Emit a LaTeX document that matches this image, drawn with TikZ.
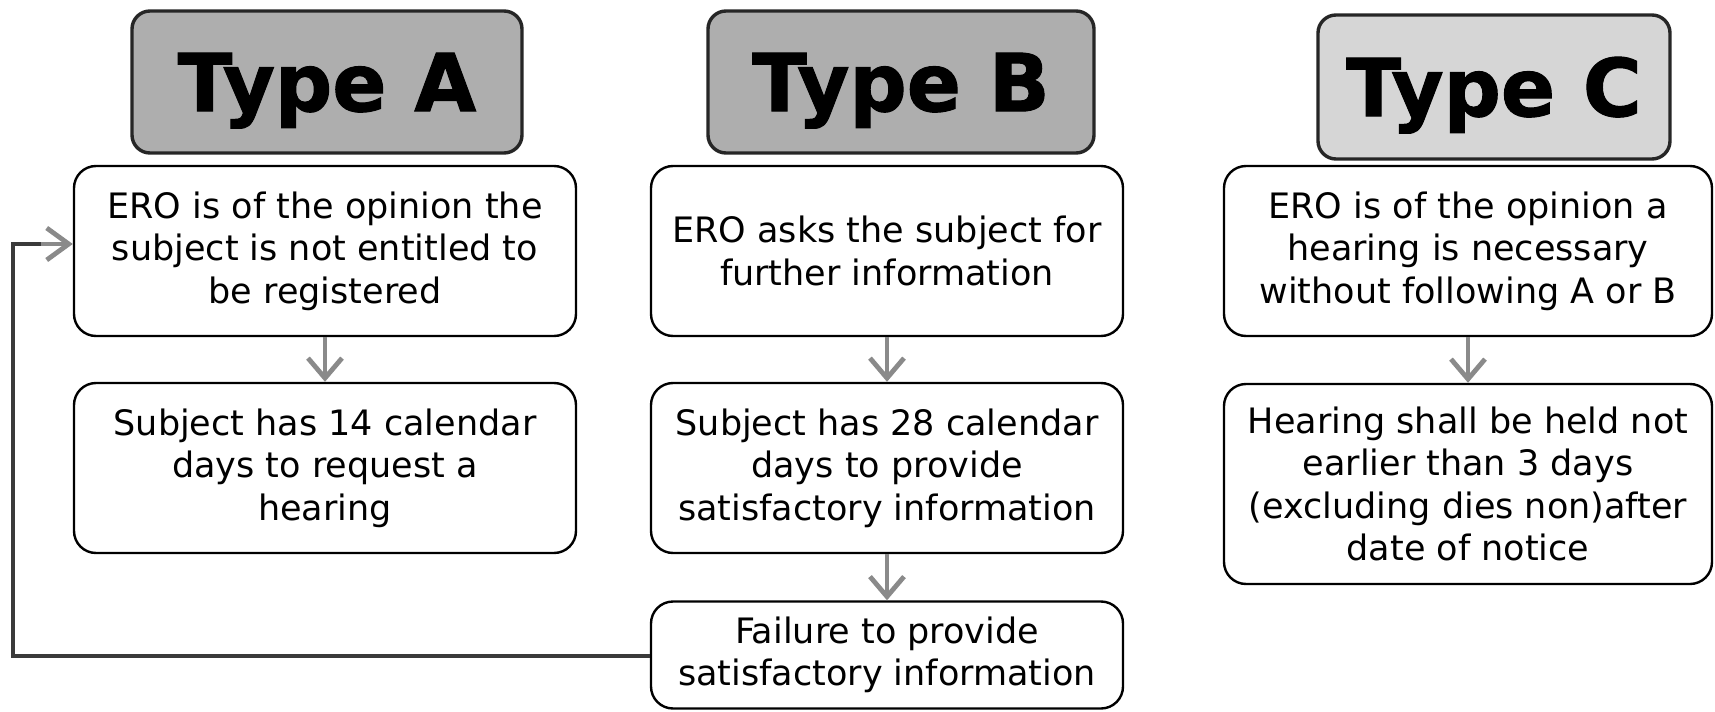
\documentclass[tikz,border=0pt]{standalone}
\usepackage{fontspec}
\setmainfont{DejaVu Sans}
\newfontface\hdrfont{DejaVu Sans Bold}[FakeBold=1.3]
\usetikzlibrary{arrows.meta}
\definecolor{hdark}{HTML}{AEAEAE}
\definecolor{hlight}{HTML}{D6D6D6}
\definecolor{arrgray}{HTML}{8A8A8A}
\definecolor{loopgray}{HTML}{3A3A3A}
\begin{document}
\begin{tikzpicture}[x=0.5pt,y=-0.5pt,
  hdr/.style={draw=black!85,line width=1.7pt,rounded corners=9pt,inner sep=0pt,
    text height=29.2pt,text depth=0pt,font=\fontsize{40}{44}\hdrfont},
  stepbox/.style={draw=black,line width=1.2pt,fill=white,rounded corners=11pt,inner sep=0pt,
    align=center,font=\fontsize{17.5}{21.3}\selectfont,
    execute at begin node={\rule{0pt}{18pt}}},
  flow/.style={draw=arrgray,line width=2pt,-{Straight Barb[length=10pt,width=17pt,line width=2.4pt]}},
  loop/.style={draw=loopgray,line width=1.7pt},
]
\useasboundingbox (0,0) rectangle (1715,712);
% headers
\node[hdr,fill=hdark,minimum width=195pt,minimum height=71pt] (ha) at (327,82) {Type A};
\node[hdr,fill=hdark,minimum width=193pt,minimum height=71pt] (hb) at (901,82) {Type B};
\node[hdr,fill=hlight,minimum width=176pt,minimum height=72pt] (hc) at (1494,87) {Type C};
% column A
\node[stepbox,minimum width=251pt,minimum height=85pt] (a1) at (325,251)
  {ERO is of the opinion the\\subject is not entitled to\\be registered};
\node[stepbox,minimum width=251pt,minimum height=85pt] (a2) at (325,468)
  {Subject has 14 calendar\\days to request a\\hearing};
% column B
\node[stepbox,minimum width=236pt,minimum height=85pt] (b1) at (887,251)
  {ERO asks the subject for\\further information};
\node[stepbox,minimum width=236pt,minimum height=85pt] (b2) at (887,468)
  {Subject has 28 calendar\\days to provide\\satisfactory information};
\node[stepbox,minimum width=236pt,minimum height=53.5pt] (b3) at (887,655)
  {Failure to provide\\satisfactory information};
% column C
\node[stepbox,minimum width=244pt,minimum height=85pt] (c1) at (1468,251)
  {ERO is of the opinion a\\hearing is necessary\\without following A or B};
\node[stepbox,minimum width=244pt,minimum height=100pt] (c2) at (1468,484)
  {Hearing shall be held not\\earlier than 3 days\\(excluding dies non)after\\date of notice};
% connectors
\draw[flow] (a1.south) -- (a2.north);
\draw[flow] (b1.south) -- (b2.north);
\draw[flow] (b2.south) -- (b3.north);
\draw[flow] (c1.south) -- (c2.north);
\coordinate (lb) at (13,656);
\coordinate (lt) at (13,244);
\draw[loop] (b3.west |- lb) -- (lb) -- (lt) -- ([xshift=-14pt]a1.west |- lt);
\draw[draw=arrgray,line width=1.7pt,-{Straight Barb[length=11pt,width=16pt,line width=2.4pt]}]
  ([xshift=-16pt]a1.west |- lt) -- (a1.west |- lt);
\end{tikzpicture}
\end{document}
